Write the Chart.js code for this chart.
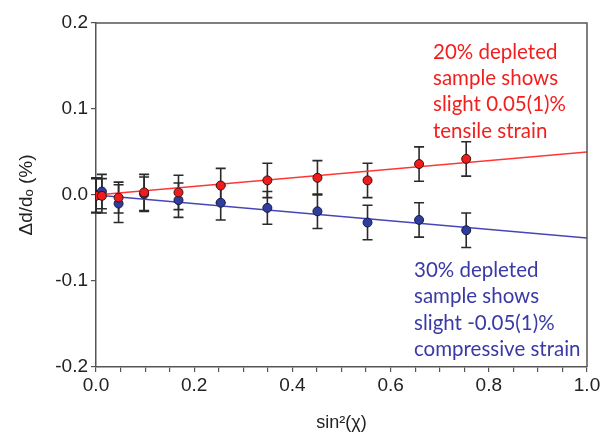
<!DOCTYPE html>
<html>
<head>
<meta charset="utf-8">
<script src="https://cdn.jsdelivr.net/npm/chart.js@4"></script>
<style>
  html, body { margin: 0; padding: 0; background: #fff; }
  canvas { display: block; }
</style>
</head>
<body>
<canvas id="strain-chart" width="603" height="434"></canvas>
<script>
// sin^2(chi) positions
const sinSq = [0.0, 0.012, 0.046, 0.098, 0.168, 0.254, 0.349, 0.451, 0.553, 0.658, 0.754];
// 20% depleted (red)
const red = [-0.001, -0.001, -0.003, 0.003, 0.003, 0.011, 0.017, 0.020, 0.017, 0.036, 0.042];
const redErr = [0.02, 0.02, 0.018, 0.021, 0.02, 0.02, 0.02, 0.02, 0.02, 0.02, 0.02];
// 30% depleted (blue)
const blue = [0.0, 0.004, -0.010, 0.001, -0.006, -0.009, -0.015, -0.019, -0.032, -0.029, -0.041];
const blueErr = [0.02, 0.02, 0.022, 0.02, 0.02, 0.02, 0.019, 0.02, 0.02, 0.02, 0.02];
// fitted lines (slope in % per unit sin^2)
const fitX = [0, 1];
const redSlope = 0.05;
const blueSlope = -0.05;

const yTicks = [-0.2, -0.1, 0.0, 0.1, 0.2];
const xTicks = [0.0, 0.2, 0.4, 0.6, 0.8, 1.0];

const redNote = ["20% depleted", "sample shows", "slight 0.05(1)%", "tensile strain"];
const blueNote = ["30% depleted", "sample shows", "slight -0.05(1)%", "compressive strain"];

const pts = (ys) => sinSq.map((x, i) => ({ x: x, y: ys[i] }));
const fit = (k) => fitX.map((x) => ({ x: x, y: k * x }));

const errorBars = {
  id: "errorBars",
  beforeDatasetsDraw(chart) {
    const { ctx, scales } = chart;
    const sx = scales.x, sy = scales.y;
    ctx.save();
    ctx.strokeStyle = "#2a2a2a";
    ctx.lineWidth = 1.6;
    [[red, redErr], [blue, blueErr]].forEach(([ys, es]) => {
      sinSq.forEach((x, i) => {
        const px = sx.getPixelForValue(x);
        const top = sy.getPixelForValue(ys[i] + es[i]);
        const bot = sy.getPixelForValue(ys[i] - es[i]);
        ctx.beginPath();
        ctx.moveTo(px, top); ctx.lineTo(px, bot);
        ctx.moveTo(px - 5, top); ctx.lineTo(px + 5, top);
        ctx.moveTo(px - 5, bot); ctx.lineTo(px + 5, bot);
        ctx.stroke();
      });
    });
    ctx.restore();
  },
  afterDraw(chart) {
    const { ctx, chartArea } = chart;
    ctx.save();
    // frame (top + right)
    ctx.strokeStyle = "#555";
    ctx.lineWidth = 1.5;
    ctx.beginPath();
    ctx.moveTo(chartArea.left, chartArea.top);
    ctx.lineTo(chartArea.right, chartArea.top);
    ctx.lineTo(chartArea.right, chartArea.bottom);
    ctx.stroke();
    // notes
    ctx.font = "20.5px Lato";
    ctx.textBaseline = "middle";
    ctx.fillStyle = "#f21f1f";
    redNote.forEach((t, i) => ctx.fillText(t, 433, 52 + i * 26.3));
    ctx.fillStyle = "#3a3aa6";
    blueNote.forEach((t, i) => ctx.fillText(t, 414, 270 + i * 26.5));
    ctx.restore();
  }
};

const config = {
  type: "scatter",
  data: {
    datasets: [
      {
        type: "line",
        data: fit(redSlope),
        borderColor: "#ff3636",
        borderWidth: 1.5,
        pointRadius: 0,
        order: 3,
      },
      {
        type: "line",
        data: fit(blueSlope),
        borderColor: "#4646b8",
        borderWidth: 1.5,
        pointRadius: 0,
        order: 3,
      },
      {
        data: pts(blue),
        backgroundColor: "#2f3d9e",
        borderColor: "#1a1a40",
        borderWidth: 1,
        pointRadius: 4.5,
        order: 2,
      },
      {
        data: pts(red),
        backgroundColor: "#ee1c1c",
        borderColor: "#3a1010",
        borderWidth: 1,
        pointRadius: 4.5,
        order: 1,
      },
    ],
  },
  options: {
    responsive: false,
    animation: false,
    events: [],
    layout: { padding: { top: 23, right: 16, left: 0, bottom: 0 } },
    plugins: { legend: { display: false }, tooltip: { enabled: false } },
    scales: {
      x: {
        type: "linear",
        min: 0,
        max: 1,
        afterBuildTicks(scale) {
          const t = [];
          for (let i = 0; i <= 20; i++) t.push({ value: i / 20 });
          scale.ticks = t;
        },
        afterFit(scale) { scale.height = 67; },
        ticks: {
          autoSkip: false,
          maxRotation: 0,
          color: "#222",
          font: { family: "Liberation Sans", size: 19 },
          padding: 2,
          callback: (v) => {
            const m = xTicks.find((t) => Math.abs(t - v) < 1e-6);
            return m === undefined ? "" : m.toFixed(1);
          },
        },
        grid: { drawOnChartArea: false, tickLength: 5, color: "#555", lineWidth: 1.2 },
        border: { color: "#555", width: 1.5 },
        title: {
          display: true,
          text: "sin²(χ)",
          color: "#222",
          font: { family: "Liberation Sans", size: 18 },
          padding: { top: 0, bottom: 0 },
        },
      },
      y: {
        min: -0.2,
        max: 0.2,
        afterBuildTicks(scale) { scale.ticks = yTicks.map((v) => ({ value: v })); },
        afterFit(scale) { scale.width = 96; },
        ticks: {
          color: "#222",
          font: { family: "Liberation Sans", size: 19 },
          padding: 3,
          callback: (v) => (Math.abs(v) < 1e-9 ? "0.0" : v.toFixed(1)),
        },
        grid: { drawOnChartArea: false, tickLength: 5, color: "#555", lineWidth: 1.2 },
        border: { color: "#555", width: 1.5 },
        title: {
          display: true,
          text: "Δd/dₒ (%)",
          color: "#222",
          font: { family: "Liberation Sans", size: 19 },
          padding: { top: 15, bottom: 0 },
        },
      },
    },
  },
  plugins: [errorBars],
};

const strainChart = new Chart(document.getElementById("strain-chart"), config);
</script>
</body>
</html>
